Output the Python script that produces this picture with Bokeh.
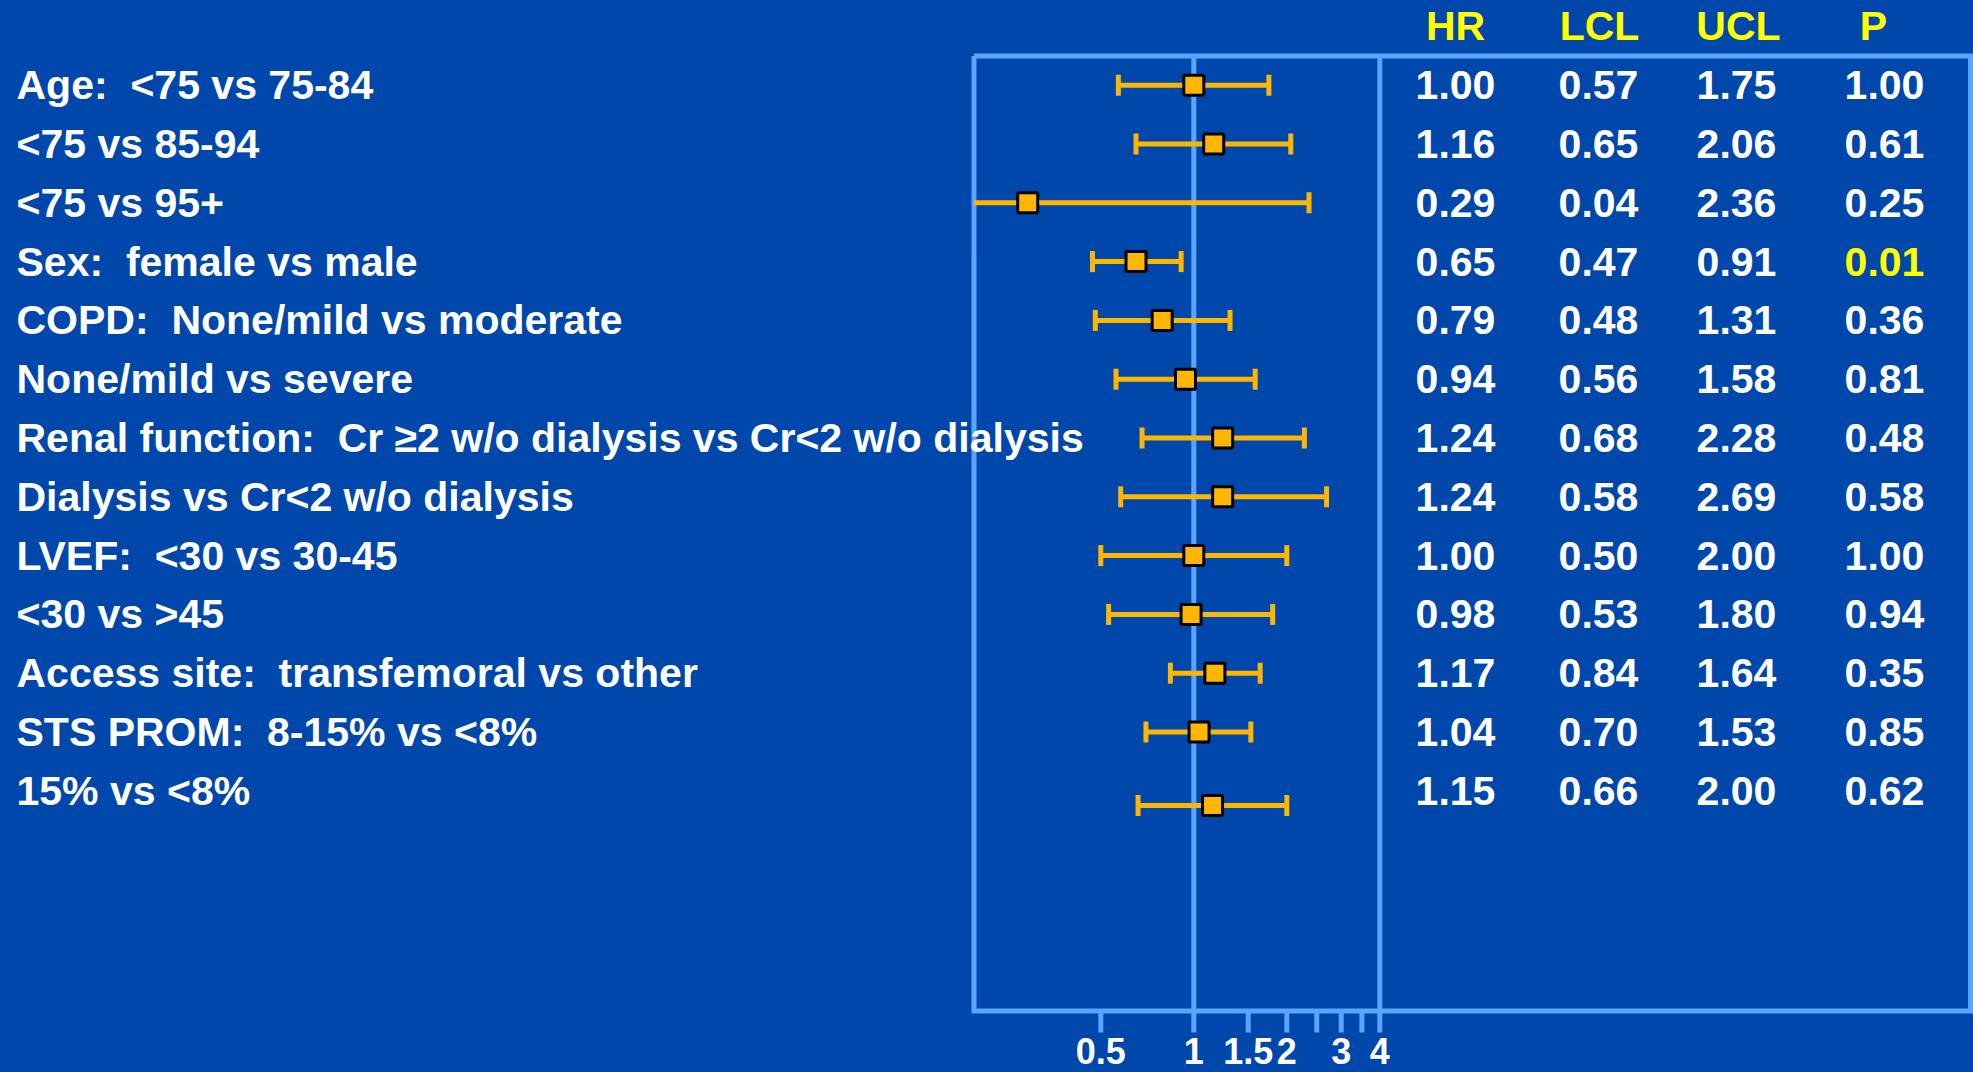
import math
from bokeh.plotting import figure
from bokeh.models import Range1d, LogScale, ColumnDataSource
from bokeh.core.properties import value
from bokeh.embed import file_html
from bokeh.resources import INLINE

# ---------------- data ----------------
labels = [
    "Age:\u00a0 <75 vs 75-84",
    "<75 vs 85-94",
    "<75 vs 95+",
    "Sex:\u00a0 female vs male",
    "COPD:\u00a0 None/mild vs moderate",
    "None/mild vs severe",
    "Renal function:\u00a0 Cr \u22652 w/o dialysis vs Cr<2 w/o dialysis",
    "Dialysis vs Cr<2 w/o dialysis",
    "LVEF:\u00a0 <30 vs 30-45",
    "<30 vs >45",
    "Access site:\u00a0 transfemoral vs other",
    "STS PROM:\u00a0 8-15% vs <8%",
    "15% vs <8%",
]
hr = [1.00, 1.16, 0.29, 0.65, 0.79, 0.94, 1.24, 1.24, 1.00, 0.98, 1.17, 1.04, 1.15]
lcl = [0.57, 0.65, 0.04, 0.47, 0.48, 0.56, 0.68, 0.58, 0.50, 0.53, 0.84, 0.70, 0.66]
ucl = [1.75, 2.06, 2.36, 0.91, 1.31, 1.58, 2.28, 2.69, 2.00, 1.80, 1.64, 1.53, 2.00]
pval = [1.00, 0.61, 0.25, 0.01, 0.36, 0.81, 0.48, 0.58, 1.00, 0.94, 0.35, 0.85, 0.62]
rows = list(range(len(labels)))
bar_rows = [0, 1, 2, 3, 4, 5, 6, 7, 8, 9, 10, 11, 12.25]
headers = ["HR", "LCL", "UCL", "P"]
tick_vals = [0.5, 1, 1.5, 2, 2.5, 3, 3.5, 4]
tick_labels = ["0.5", "1", "1.5", "2", "", "3", "", "4"]
ref_lines = [1, 4]
axis_max = 4

# ---------------- style / layout ----------------
BG = "#0047AB"
LBLUE = "#5AA5FF"
ORANGE = "#FFB600"
YELLOW = "#FFFF00"
FONT = "Liberation Sans"
FS = "41px"
TICK_FS = "36px"

W, H = 1973, 1072
ROW0, ROW_H = 84.7, 58.8   # y of first row centre and row pitch (px)


def row_of(sy):
    return (sy - ROW0) / ROW_H


ONE_PX, FOUR_PX = 1193.3, 1379.3
K = (FOUR_PX - ONE_PX) / math.log(4)
hr_lo = math.exp((0 - ONE_PX) / K)
hr_hi = math.exp((W - ONE_PX) / K)

BOX_L, BOX_R = 973.5, 1970
BOX_T, BOX_B = row_of(55.5), row_of(1010.5)
forest_lo = math.exp((BOX_L - ONE_PX) / K)

p = figure(width=W, height=H,
           x_range=Range1d(0, W),
           y_range=Range1d(row_of(H), row_of(0)),
           output_backend="svg", toolbar_location=None,
           x_axis_location=None, y_axis_location=None,
           min_border=0, background_fill_color=BG, border_fill_color=BG,
           outline_line_color=None)
p.extra_x_ranges = {"hr": Range1d(hr_lo, hr_hi)}
p.extra_x_scales = {"hr": LogScale()}
p.xgrid.visible = False
p.ygrid.visible = False

try:
    from bokeh.models import GlobalInlineStyleSheet
    p.stylesheets = [GlobalInlineStyleSheet(css="body{background:%s;}" % BG)]
except Exception:
    pass

# frame box
p.line(x=[BOX_L, BOX_R, BOX_R, BOX_L, BOX_L], y=[BOX_T, BOX_T, BOX_B, BOX_B, BOX_T],
       line_color=LBLUE, line_width=5, line_join="miter")
# reference lines at 1 and 4
p.segment(x0=ref_lines, x1=ref_lines, y0=[BOX_T] * 2, y1=[BOX_B] * 2,
          x_range_name="hr", line_color=LBLUE, line_width=5)
# ticks
p.segment(x0=tick_vals, x1=tick_vals, y0=[BOX_B] * len(tick_vals),
          y1=[row_of(1032)] * len(tick_vals),
          x_range_name="hr", line_color=LBLUE, line_width=5)
p.text(x=tick_vals, y=[row_of(1050)] * len(tick_vals), text=tick_labels,
       x_range_name="hr", text_font=value(FONT), text_font_style="bold",
       text_font_size=TICK_FS, text_color="white", text_align="center",
       text_baseline="middle")

# error bars
x0 = [max(v, forest_lo) for v in lcl]
x1 = [min(v, axis_max) for v in ucl]
p.segment(x0=x0, x1=x1, y0=bar_rows, y1=bar_rows, x_range_name="hr",
          line_color=ORANGE, line_width=5, line_cap="butt")
cap_x, cap_y = [], []
for lo_, hi_, r in zip(lcl, ucl, bar_rows):
    if lo_ >= forest_lo:
        cap_x.append(lo_); cap_y.append(r)
    if hi_ <= axis_max:
        cap_x.append(hi_); cap_y.append(r)
p.scatter(x=cap_x, y=cap_y, marker="dash", size=21, angle=math.pi / 2,
          x_range_name="hr", line_color=ORANGE, line_width=5)
p.scatter(x=hr, y=bar_rows, marker="square", size=20, x_range_name="hr",
          fill_color=ORANGE, line_color="black", line_width=3)

# row labels
p.text(x=[16] * len(labels), y=rows, text=labels,
       text_font=value(FONT), text_font_style="bold", text_font_size=FS,
       text_color="white", text_align="left", text_baseline="middle")

# table
col_x = [1455, 1598, 1736, 1884]
head_x = [1455, 1599, 1738, 1873]
cols = [hr, lcl, ucl, pval]
for j, vals in enumerate(cols):
    if j == 3:
        colors = [YELLOW if v < 0.05 else "white" for v in vals]
    else:
        colors = ["white"] * len(vals)
    src = ColumnDataSource(dict(x=[col_x[j]] * len(vals), y=rows,
                                t=["%.2f" % v for v in vals], c=colors))
    p.text(x="x", y="y", text="t", text_color="c", source=src,
           text_font=value(FONT), text_font_style="bold", text_font_size=FS,
           text_align="center", text_baseline="middle")
p.text(x=head_x, y=[-1] * len(headers), text=headers,
       text_font=value(FONT), text_font_style="bold", text_font_size=FS,
       text_color=YELLOW, text_align="center", text_baseline="middle")

open("out.html", "w").write(file_html(p, INLINE))
